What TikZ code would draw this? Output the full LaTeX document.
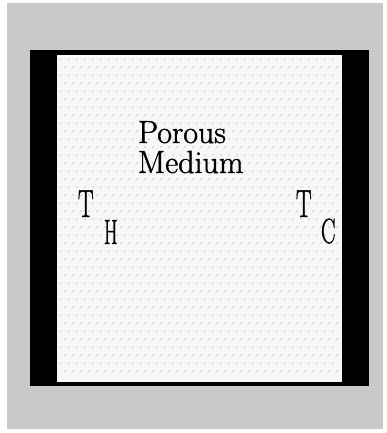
\documentclass[tikz,border=0pt]{standalone}
\usepackage{fontspec}
\newfontfamily\heavy[FakeBold=1.3]{Latin Modern Roman}
\begin{document}
\begin{tikzpicture}[x=1pt,y=-1pt,
  lbl/.style={inner sep=0pt,outer sep=0pt,anchor=base west,font=\heavy\fontsize{32}{30}\selectfont},
  sym/.style={inner sep=0pt,outer sep=0pt,anchor=base west,font=\heavy}]
\useasboundingbox (0,0) rectangle (386,433);
\fill[white] (0,0) rectangle (386,433);
% stippled gray surround
\fill[black!21] (7,3) rectangle (383,429);
% black walls
\fill[black] (30,50) rectangle (369,386);
% porous medium interior
\fill[black!3] (57,55) rectangle (342,382);
\foreach \i in {0,...,35}{
  \foreach \j in {0,...,39}{
    \pgfmathsetmacro{\xx}{61+\i*8+mod(\j,2)*4}
    \pgfmathsetmacro{\yy}{59+\j*8}
    \ifdim\xx pt<340pt
      \fill[black!22] (\xx,\yy) circle (0.8);
    \fi
  }
}
% labels
\node[lbl] (porous) at (138,143) {Porous};
\node[lbl] (medium) at (138,173) {Medium};
\node[sym] (th) at (78,217) {\scalebox{0.6}[1]{\heavy\fontsize{39}{39}\selectfont T}};
\node[sym] (hs) at (104,244) {\scalebox{0.56}[1]{\heavy\fontsize{35}{35}\selectfont H}};
\node[sym] (tc) at (296,217) {\scalebox{0.6}[1]{\heavy\fontsize{39}{39}\selectfont T}};
\node[sym] (cs) at (321,243) {\scalebox{0.62}[1]{\heavy\fontsize{35}{35}\selectfont C}};
\end{tikzpicture}
\end{document}
